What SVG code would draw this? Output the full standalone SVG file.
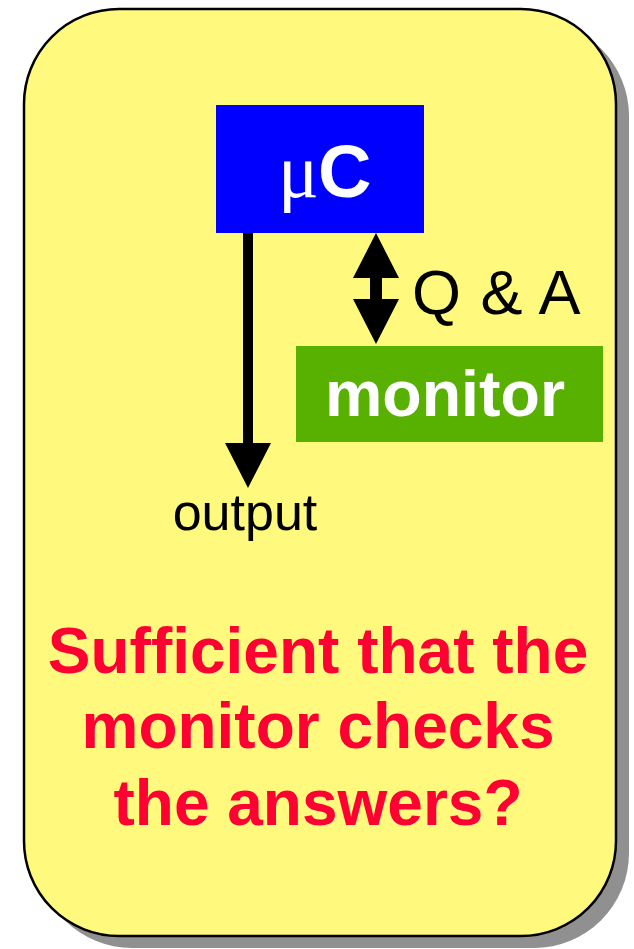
<svg xmlns="http://www.w3.org/2000/svg" width="634" height="949" viewBox="0 0 634 949">
<style>
.sans{font-family:"Liberation Sans",Arial,sans-serif}
.bold{font-weight:bold}
.arrow{fill:#000}
.q{font-family:"Liberation Sans",Arial,sans-serif;font-weight:bold;font-size:64px;fill:#FF0033;text-anchor:middle}
</style>
<rect x="0" y="0" width="634" height="949" fill="#fff"/>
<g id="panel">
<rect x="37" y="21" width="592" height="927" rx="95" ry="95" fill="#909090"/>
<rect x="24" y="9" width="592" height="927" rx="95" ry="95" fill="#FFFA7D" stroke="#000" stroke-width="2.5"/>
</g>
<g id="connectors">
<path class="arrow" d="M243,232 H253 V443 H271 L248,488 L225,443 H243 Z"/>
<path class="arrow" d="M376,233 L399,278 H382 V299 H399 L376,344 L353,299 H370 V278 H353 Z"/>
</g>
<g id="uc">
<rect x="216" y="105" width="208" height="128" fill="#0000FF"/>
<text x="278" y="197" font-family="'Liberation Serif',serif" font-size="76" fill="#fff">μ</text>
<text x="318" y="197" class="sans bold" font-size="74" fill="#fff">C</text>
</g>
<g id="monitor">
<rect x="296" y="346" width="307" height="96" fill="#58B000"/>
<text x="445" y="416" class="sans bold" font-size="64.5" fill="#fff" text-anchor="middle">monitor</text>
</g>
<g id="qa-label">
<text x="412" y="314" class="sans" font-size="63" letter-spacing="1" fill="#000">Q &amp; A</text>
</g>
<g id="output-label">
<text x="245" y="530" class="sans" font-size="52" fill="#000" text-anchor="middle">output</text>
</g>
<g id="question">
<text class="q" x="318" y="673">Sufficient that the</text>
<text class="q" x="318" y="748">monitor checks</text>
<text class="q" x="318" y="825">the answers?</text>
</g>
</svg>
